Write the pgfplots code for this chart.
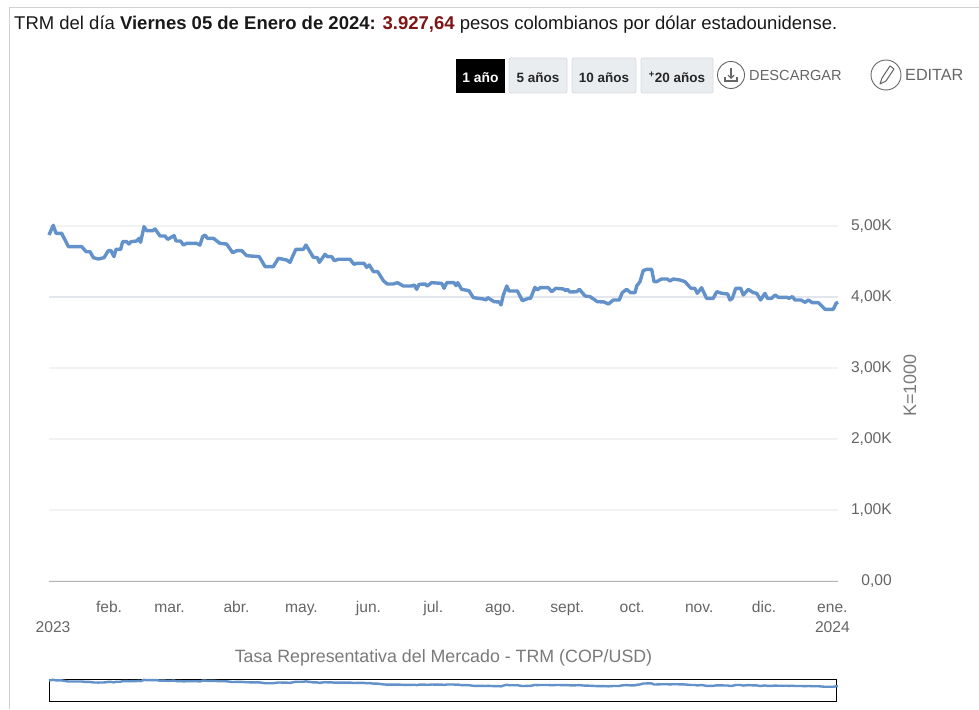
\documentclass[border=0pt]{standalone}
\usepackage{fontspec}
\setmainfont{Liberation Sans}
\usepackage{pgfplots}
\usepackage{pgfplotstable}
\pgfplotsset{compat=1.18}
\usetikzlibrary{arrows.meta}
\definecolor{trmline}{HTML}{6391C9}
\definecolor{gridlight}{HTML}{F1F2F4}
\definecolor{gridmid}{HTML}{E3E7ED}
\definecolor{axisgray}{HTML}{B4B4B4}
\definecolor{textgray}{HTML}{666666}
\definecolor{titlegray}{HTML}{7A7A7A}
\definecolor{btnfill}{HTML}{EAEDF0}
\definecolor{btnedge}{HTML}{D6DBE0}
\definecolor{trmred}{HTML}{7E1414}

% day of 2023, COP per USD
\pgfplotstableread{
d v
3.24 4873
5.2 5010
6.5 4897
9.1 4897
12.2 4709
18.4 4709
20.4 4638
22.2 4638
23.8 4554
26.1 4535
28.7 4554
30.7 4653
31.9 4653
33.3 4568
34.2 4671
36.4 4671
37.3 4779
39.2 4779
40.2 4746
41.2 4779
43.8 4789
44.9 4826
45.6 4770
47.2 4991
48.4 4934
51.2 4934
52.3 4958
54.6 4859
56.9 4859
58.1 4812
61.1 4864
62.0 4789
64.1 4789
65.4 4732
66.9 4756
71.5 4756
73.1 4732
74.3 4850
75.4 4873
76.5 4826
79.3 4826
82.3 4756
85.4 4746
88.2 4624
90.1 4653
92.4 4653
94.7 4582
100.5 4568
103.2 4427
107.0 4427
109.3 4545
113.2 4521
114.7 4488
117.4 4671
120.9 4671
122.1 4732
125.5 4559
127.4 4554
128.3 4488
130.9 4601
132.0 4568
134.0 4568
135.2 4512
137.1 4531
142.5 4531
144.3 4460
145.5 4474
149.0 4474
150.2 4418
151.4 4451
153.3 4357
155.3 4357
157.9 4230
159.7 4183
162.5 4183
164.4 4202
167.1 4155
171.0 4155
172.2 4169
173.3 4108
174.4 4178
177.2 4183
178.2 4155
180.2 4202
184.9 4192
186.0 4122
187.2 4202
190.6 4202
191.5 4160
192.3 4202
194.1 4108
197.5 4089
199.5 3991
204.1 3972
205.4 3958
206.1 3991
209.1 3934
211.5 3930
212.3 3887
213.4 4028
215.0 4155
216.0 4085
219.9 4085
222.2 3948
225.0 3981
226.0 3981
228.0 4136
229.1 4099
230.4 4131
234.2 4131
235.8 4075
237.6 4122
241.2 4113
242.2 4089
243.0 4108
244.2 4070
247.3 4075
248.6 4108
251.2 4014
253.5 4005
256.9 3934
260.0 3930
262.0 3901
264.3 3958
267.0 3958
268.4 4061
270.4 4108
272.3 4061
274.3 4061
275.1 4155
276.6 4216
278.1 4371
279.7 4390
282.0 4390
283.1 4216
284.3 4216
286.6 4254
289.2 4254
290.5 4225
292.0 4254
295.1 4239
297.4 4216
300.2 4122
302.0 4122
303.1 4052
305.1 4131
307.4 3981
310.5 3981
312.1 4075
314.4 4052
317.2 4042
318.2 3958
319.3 3981
320.9 4122
323.2 4122
324.4 4028
326.7 4108
329.0 4061
330.6 4052
332.4 3958
334.4 4052
335.5 3981
337.5 3981
339.1 4028
340.6 3995
344.8 3995
345.5 3981
347.1 4005
348.3 3958
351.0 3958
353.0 3925
354.5 3958
356.3 3920
359.1 3920
362.2 3826
366.0 3826
367.3 3911
368.2 3927
}\trmdata

\begin{document}
\begin{tikzpicture}[x=1pt,y=1pt]
\path[use as bounding box,fill=white] (0,0) rectangle (979,709);

% page frame
\draw[line width=1pt,black!18] (9.5,0) -- (9.5,701) -- (979,701);

% main chart
\begin{axis}[
    at={(49pt,128pt)}, anchor=south west,
    scale only axis, width=789pt, height=355pt,
    xmin=3.24, xmax=368.2, ymin=0, ymax=5000,
    clip=false,
    axis line style={draw=none},
    axis x line*=bottom,
    axis y line*=right,
    major tick length=0pt,
    xtick={5.1,31,59,90,120,151,181,212,243,273,304,334,365.6},
    xticklabels={{\strut\\2023},\strut feb.,\strut mar.,\strut abr.,\strut may.,\strut jun.,\strut jul.,\strut ago.,\strut sept.,\strut oct.,\strut nov.,\strut dic.,{\strut ene.\\2024}},
    x tick label style={align=center,font=\fontsize{15.6}{20}\selectfont,text=textgray,inner sep=0pt,yshift=-17pt},
    ytick={0,1000,2000,3000,4000,5000},
    yticklabels={{0,00},{1,00K},{2,00K},{3,00K},{4,00K},{5,00K}},
    y tick label style={anchor=east,xshift=54pt,inner sep=0pt,font=\fontsize{15.6}{17}\selectfont,text=textgray},
    ymajorgrids=true,
    grid style={gridlight,line width=1.2pt},
    /pgf/number format/assume math mode=true,
]
\addplot[axisgray,line width=1pt,forget plot] coordinates {(3.24,0) (368.2,0)};
\addplot[gridmid,line width=1.2pt,forget plot] coordinates {(3.24,4000) (368.2,4000)};
\addplot[trmline,line width=3.4pt,line join=round] table[x=d,y=v] {\trmdata};
\end{axis}

% range selector
\begin{axis}[
    at={(49pt,7.5pt)}, anchor=south west,
    scale only axis, width=787pt, height=22pt,
    xmin=3.24, xmax=367.3, ymin=1350, ymax=5050,
    clip=false,
    axis line style={black,line width=1pt},
    xtick=\empty, ytick=\empty,
]
\addplot[trmline,line width=2.4pt,line join=round] table[x=d,y=v] {\trmdata};
\end{axis}

% heading
\node[anchor=base west,inner sep=0pt,font=\fontsize{18.5}{20}\selectfont,text=black!90] at (14,679)
  {TRM del día \textbf{Viernes 05 de Enero de 2024:} \textcolor{trmred}{\textbf{3.927,64}} pesos colombianos por dólar estadounidense.};

% buttons
\fill[black] (456,616) rectangle (505,650);
\node[font=\fontsize{13.8}{15}\selectfont\bfseries,text=white] at (480.5,631.5) {1 año};
\foreach \xa/\xb/\lab in {509/567/5 años,572/636/10 años,641/713/\textsuperscript{+}20 años}{
  \filldraw[fill=btnfill,draw=btnedge,line width=0.8pt,rounded corners=2pt] (\xa,616) rectangle (\xb,651);
  \node[font=\fontsize{13.5}{15}\selectfont\bfseries,text=black!85] at ({(\xa+\xb)/2},631.5) {\lab};
}

% download and edit
\draw[textgray,line width=0.9pt] (731,634) circle (13.5);
\draw[textgray,line width=1.1pt,-{Straight Barb[length=3pt]}] (731,641) -- (731,630);
\draw[textgray,line width=1.1pt] (725,632) -- (725,628) -- (737,628) -- (737,632);
\node[anchor=base west,inner sep=0pt,font=\fontsize{14.6}{17}\selectfont,text=textgray] at (749,628.5) {DESCARGAR};
\draw[textgray,line width=0.9pt] (886,634) circle (15);
\draw[textgray,line width=1pt,line join=round] (880,625) -- (882,631) -- (890,643) -- (894,640) -- (886,628) -- cycle;
\node[anchor=base west,inner sep=0pt,font=\fontsize{16.2}{18}\selectfont,text=textgray] at (905,628.5) {EDITAR};

% texts around the plot
\node[rotate=90,font=\fontsize{18}{20}\selectfont,text=titlegray] at (910,323.5) {K=1000};
\node[font=\fontsize{17.8}{20}\selectfont,text=titlegray] at (443.5,51.5) {Tasa Representativa del Mercado - TRM (COP/USD)};
\end{tikzpicture}
\end{document}
